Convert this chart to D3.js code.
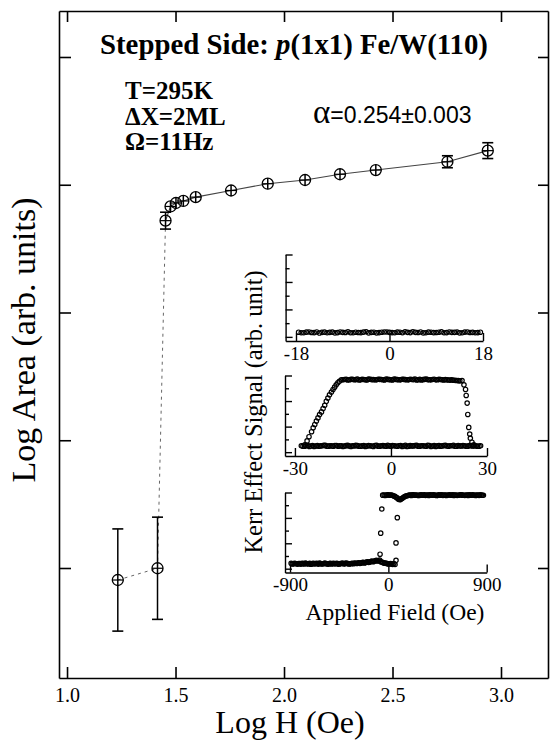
<!DOCTYPE html>
<html>
<head>
<meta charset="utf-8">
<script src="https://cdn.jsdelivr.net/npm/d3@7"></script>
<style>
  html, body { margin: 0; padding: 0; background: #fff; }
  svg { display: block; }
</style>
</head>
<body>
<svg id="chart" width="551" height="740"></svg>
<script>
// Main plot: log area vs log field
const logH = [1.234, 1.417, 1.454, 1.477, 1.502, 1.536, 1.593, 1.756, 1.925, 2.097, 2.258, 2.423, 2.753, 2.939];
const logArea = [0.906, 0.998, 3.719, 3.830, 3.857, 3.873, 3.903, 3.955, 4.008, 4.037, 4.082, 4.115, 4.180, 4.267];
const logAreaErr = [0.40, 0.40, 0.066, 0.01, 0.01, 0.01, 0.01, 0.01, 0.01, 0.01, 0.01, 0.01, 0.047, 0.062];

const xTickValues = [1.0, 1.5, 2.0, 2.5, 3.0];
const yTickValues = [1, 2, 3, 4, 5];

// Inset loops, [field (Oe), signal (arb.)]
const loop18Down = [[-17.5,0.34],[-16.5,0.30],[-15.5,0.36],[-14.5,0.31],[-13.5,0.28],[-12.5,0.35],[-11.5,0.33],[-10.5,0.29],[-9.5,0.36],[-8.5,0.32],[-7.5,0.30],[-6.5,0.34],[-5.5,0.31],[-4.5,0.37],[-3.5,0.33],[-2.5,0.29],[-1.5,0.34],[-0.5,0.36],[0.5,0.31],[1.5,0.35],[2.5,0.30],[3.5,0.33],[4.5,0.37],[5.5,0.32],[6.5,0.29],[7.5,0.35],[8.5,0.31],[9.5,0.34],[10.5,0.30],[11.5,0.36],[12.5,0.33],[13.5,0.29],[14.5,0.35],[15.5,0.32],[16.5,0.30],[17.5,0.34]];
const loop18Up = [[-17,0.30],[-16,0.35],[-15,0.32],[-14,0.36],[-13,0.33],[-12,0.30],[-11,0.35],[-10,0.31],[-9,0.33],[-8,0.37],[-7,0.30],[-6,0.32],[-5,0.35],[-4,0.29],[-3,0.34],[-2,0.31],[-1,0.36],[0,0.33],[1,0.30],[2,0.34],[3,0.37],[4,0.31],[5,0.33],[6,0.36],[7,0.30],[8,0.34],[9,0.32],[10,0.37],[11,0.31],[12,0.33],[13,0.35],[14,0.30],[15,0.36],[16,0.33],[17,0.31]];

const loop30Low = [[-28,0.50],[-27,0.46],[-26,0.52],[-25,0.48],[-24,0.45],[-23,0.51],[-22,0.49],[-21,0.53],[-20,0.47],[-19,0.50],[-18,0.46],[-17,0.52],[-16,0.49],[-15,0.45],[-14,0.51],[-13,0.48],[-12,0.50],[-11,0.53],[-10,0.47],[-9,0.49],[-8,0.45],[-7,0.51],[-6,0.48],[-5,0.52],[-4,0.46],[-3,0.50],[-2,0.49],[-1,0.53],[0,0.47],[1,0.50],[2,0.46],[3,0.52],[4,0.48],[5,0.45],[6,0.51],[7,0.49],[8,0.53],[9,0.47],[10,0.50],[11,0.46],[12,0.52],[13,0.48],[14,0.45],[15,0.51],[16,0.49],[17,0.53],[18,0.47],[19,0.50],[20,0.46],[21,0.52],[22,0.48],[23,0.50],[24,0.47],[25,0.51],[26,0.49],[27,0.46],[28,0.50]];
const loop30LowB = [[-27.5,0.47],[-26.5,0.51],[-25.5,0.45],[-24.5,0.52],[-23.5,0.48],[-22.5,0.46],[-21.5,0.50],[-20.5,0.53],[-19.5,0.47],[-18.5,0.49],[-17.5,0.52],[-16.5,0.46],[-15.5,0.50],[-14.5,0.48],[-13.5,0.53],[-12.5,0.45],[-11.5,0.49],[-10.5,0.51],[-9.5,0.46],[-8.5,0.52],[-7.5,0.48],[-6.5,0.50],[-5.5,0.45],[-4.5,0.53],[-3.5,0.47],[-2.5,0.51],[-1.5,0.46],[-0.5,0.49],[0.5,0.52],[1.5,0.48],[2.5,0.50],[3.5,0.45],[4.5,0.53],[5.5,0.47],[6.5,0.49],[7.5,0.52],[8.5,0.46],[9.5,0.50],[10.5,0.48],[11.5,0.53],[12.5,0.45],[13.5,0.51],[14.5,0.49],[15.5,0.46],[16.5,0.52],[17.5,0.48],[18.5,0.50],[19.5,0.53],[20.5,0.47],[21.5,0.49],[22.5,0.51],[23.5,0.46],[24.5,0.52],[25.5,0.48],[26.5,0.50],[27.5,0.47]];
const loop30High = [[-26.9,0.57],[-26.2,0.88],[-25.6,1.21],[-24.8,1.60],[-24.3,1.91],[-23.8,2.17],[-23.3,2.43],[-22.8,2.68],[-22.3,2.94],[-21.7,3.15],[-21.2,3.41],[-20.7,3.67],[-20.2,3.98],[-19.7,4.23],[-19.2,4.49],[-18.6,4.70],[-18.1,4.91],[-17.6,5.09],[-17.1,5.27],[-16.6,5.43],[-16.1,5.55],[-15.5,5.66],[-15,5.66],[-14,5.70],[-13,5.67],[-12,5.71],[-11,5.68],[-10,5.65],[-9,5.70],[-8,5.67],[-7,5.72],[-6,5.68],[-5,5.66],[-4,5.71],[-3,5.69],[-2,5.65],[-1,5.70],[0,5.67],[1,5.72],[2,5.68],[3,5.66],[4,5.70],[5,5.67],[6,5.71],[7,5.68],[8,5.65],[9,5.70],[10,5.68],[11,5.72],[12,5.67],[13,5.69],[14,5.66],[15,5.70],[16,5.67],[17,5.68],[18,5.65],[19,5.66],[20,5.62],[21,5.60],[22.2,5.60],[22.8,5.27],[23.3,4.91],[23.5,4.44],[23.8,3.84],[24.0,2.95],[24.3,1.94],[24.6,1.42],[24.8,1.09],[25.3,0.78],[25.9,0.57]];
const loop30HighB = [[-14.5,5.69],[-13.5,5.65],[-12.5,5.70],[-11.5,5.67],[-10.5,5.72],[-9.5,5.66],[-8.5,5.69],[-7.5,5.65],[-6.5,5.71],[-5.5,5.68],[-4.5,5.66],[-3.5,5.70],[-2.5,5.67],[-1.5,5.72],[-0.5,5.68],[0.5,5.65],[1.5,5.70],[2.5,5.67],[3.5,5.71],[4.5,5.68],[5.5,5.66],[6.5,5.69],[7.5,5.72],[8.5,5.67],[9.5,5.65],[10.5,5.70],[11.5,5.68],[12.5,5.66],[13.5,5.71],[14.5,5.67],[15.5,5.69],[16.5,5.65],[17.5,5.66],[18.5,5.64],[19.5,5.63],[20.5,5.61],[21.5,5.58]];

const loop900Low = [[-890,0.42],[-870,0.38],[-850,0.41],[-830,0.36],[-810,0.40],[-790,0.43],[-770,0.37],[-750,0.41],[-730,0.39],[-710,0.35],[-690,0.42],[-670,0.38],[-650,0.40],[-630,0.44],[-610,0.37],[-590,0.41],[-570,0.39],[-550,0.36],[-530,0.42],[-510,0.40],[-490,0.38],[-470,0.43],[-450,0.37],[-430,0.41],[-410,0.39],[-390,0.44],[-370,0.40],[-350,0.38],[-330,0.42],[-310,0.45],[-290,0.41],[-270,0.47],[-250,0.44],[-230,0.50],[-210,0.48],[-190,0.55],[-170,0.52],[-150,0.60],[-130,0.58],[-110,0.66],[-90,0.62],[-70,0.55],[-50,0.48],[-30,0.45],[-10,0.40],[10,0.38],[30,0.36],[50,0.40]];
const loop900LowB = [[-880,0.37],[-860,0.43],[-840,0.39],[-820,0.41],[-800,0.36],[-780,0.40],[-760,0.44],[-740,0.38],[-720,0.42],[-700,0.37],[-680,0.40],[-660,0.43],[-640,0.36],[-620,0.41],[-600,0.39],[-580,0.44],[-560,0.38],[-540,0.40],[-520,0.37],[-500,0.43],[-480,0.41],[-460,0.36],[-440,0.40],[-420,0.44],[-400,0.38],[-380,0.42],[-360,0.37],[-340,0.41],[-320,0.39],[-300,0.43],[-280,0.44],[-260,0.42],[-240,0.48],[-220,0.45],[-200,0.52],[-180,0.50],[-160,0.57],[-140,0.55],[-120,0.63],[-100,0.60],[-80,0.68],[-60,0.52],[-40,0.44],[-20,0.42],[0,0.37],[20,0.41],[40,0.34]];
const loop900High = [[-52,5.79],[-40,5.80],[-20,5.78],[0,5.82],[20,5.79],[40,5.76],[60,5.70],[80,5.58],[100,5.45],[120,5.50],[140,5.62],[160,5.72],[180,5.76],[200,5.79],[220,5.81],[240,5.78],[260,5.80],[280,5.77],[300,5.81],[320,5.79],[340,5.76],[360,5.80],[380,5.82],[400,5.78],[420,5.80],[440,5.77],[460,5.81],[480,5.79],[500,5.76],[520,5.80],[540,5.78],[560,5.82],[580,5.79],[600,5.77],[620,5.80],[640,5.78],[660,5.81],[680,5.79],[700,5.76],[720,5.80],[740,5.82],[760,5.78],[780,5.80],[800,5.77],[820,5.79],[840,5.81],[860,5.78]];
const loop900HighB = [[-30,5.77],[-10,5.81],[10,5.78],[30,5.80],[50,5.73],[70,5.62],[90,5.48],[110,5.44],[130,5.56],[150,5.68],[170,5.74],[190,5.80],[210,5.77],[230,5.82],[250,5.79],[270,5.76],[290,5.80],[310,5.78],[330,5.82],[350,5.79],[370,5.77],[390,5.80],[410,5.81],[430,5.78],[450,5.76],[470,5.80],[490,5.82],[510,5.79],[530,5.77],[550,5.80],[570,5.78],[590,5.81],[610,5.79],[630,5.76],[650,5.80],[670,5.82],[690,5.78],[710,5.80],[730,5.77],[750,5.79],[770,5.81],[790,5.78],[810,5.80],[830,5.76],[850,5.79],[870,5.78]];
const loop900Switch = [[-76,1.14],[-70,2.80],[-60,4.70],[61,0.33],[70,0.66],[70,2.03],[82,4.02]];

const insetYTicks = [0, 1, 2, 3, 4, 5, 6];

const serif = "'Liberation Serif', 'Times New Roman', serif";
const sans = "'Liberation Sans', Arial, sans-serif";

const svg = d3.select("#chart");
svg.append("rect").attr("width", 551).attr("height", 740).attr("fill", "#fff");

const frame = { left: 59, right: 548, top: 11, bottom: 678 };

const x = d3.scaleLinear().domain([0.963, 3.2166]).range([frame.left, frame.right]);
const y = d3.scaleLinear().domain([0.139, 5.36]).range([frame.bottom, frame.top]);

function styleAxis(g, width) {
  g.attr("font-family", serif);
  g.selectAll(".domain").attr("stroke", "#000").attr("stroke-width", width);
  g.selectAll(".tick line").attr("stroke", "#000").attr("stroke-width", width);
  g.selectAll(".tick text").attr("fill", "#000").attr("font-family", serif);
}

// frame built from four axes, ticks pointing inward
svg.append("g")
  .attr("transform", `translate(0,${frame.bottom})`)
  .call(d3.axisBottom(x).tickValues(xTickValues).tickFormat(d3.format(".1f")).tickSize(-11).tickSizeOuter(0))
  .call(g => styleAxis(g, 1.6))
  .call(g => g.selectAll(".tick text").attr("font-size", 20).attr("y", 24).attr("dy", 0));

svg.append("g")
  .attr("transform", `translate(0,${frame.top})`)
  .call(d3.axisTop(x).tickValues(xTickValues).tickFormat("").tickSize(-11).tickSizeOuter(0))
  .call(g => styleAxis(g, 1.6));

svg.append("g")
  .attr("transform", `translate(${frame.left},0)`)
  .call(d3.axisLeft(y).tickValues(yTickValues).tickFormat("").tickSize(-12).tickSizeOuter(0))
  .call(g => styleAxis(g, 1.6));

svg.append("g")
  .attr("transform", `translate(${frame.right},0)`)
  .call(d3.axisRight(y).tickValues(yTickValues).tickFormat("").tickSize(-10).tickSizeOuter(0))
  .call(g => styleAxis(g, 1.6));

// connecting lines
const pts = logH.map((h, i) => ({ h, a: logArea[i], e: logAreaErr[i] }));
const line = d3.line().x(d => x(d.h)).y(d => y(d.a));

svg.append("path")
  .datum(pts.slice(0, 3))
  .attr("d", line)
  .attr("fill", "none")
  .attr("stroke", "#666")
  .attr("stroke-width", 1)
  .attr("stroke-dasharray", "3,4");

svg.append("path")
  .datum(pts.slice(2))
  .attr("d", line)
  .attr("fill", "none")
  .attr("stroke", "#444")
  .attr("stroke-width", 1.1);

// markers with error bars
const r = 5.5;
const mk = svg.append("g").attr("stroke", "#000").attr("fill", "none");
pts.forEach(d => {
  const cx = x(d.h), cy = y(d.a);
  const top = Math.min(y(d.a + d.e), cy - r);
  const bot = Math.max(y(d.a - d.e), cy + r);
  mk.append("line").attr("x1", cx).attr("x2", cx).attr("y1", top).attr("y2", bot).attr("stroke-width", 1.5);
  if (y(d.a - d.e) - y(d.a + d.e) > 2 * r) {
    mk.append("line").attr("x1", cx - r).attr("x2", cx + r).attr("y1", top).attr("y2", top).attr("stroke-width", 1.6);
    mk.append("line").attr("x1", cx - r).attr("x2", cx + r).attr("y1", bot).attr("y2", bot).attr("stroke-width", 1.6);
  }
  mk.append("line").attr("x1", cx - r).attr("x2", cx + r).attr("y1", cy).attr("y2", cy).attr("stroke-width", 1.2);
  mk.append("circle").attr("cx", cx).attr("cy", cy).attr("r", r).attr("stroke-width", 1.3);
});

// titles and annotations
const title = svg.append("text")
  .attr("x", 100).attr("y", 54)
  .attr("font-family", serif).attr("font-weight", "bold").attr("font-size", 28.8);
title.append("tspan").text("Stepped Side: ");
title.append("tspan").attr("font-style", "italic").text("p");
title.append("tspan").text("(1x1) Fe/W(110)");

["T=295K", "\u0394X=2ML", "\u03A9=11Hz"].forEach((t, i) => {
  svg.append("text")
    .attr("x", 125).attr("y", 99 + i * 25.5)
    .attr("font-family", serif).attr("font-weight", "bold").attr("font-size", 25)
    .text(t);
});

const alpha = svg.append("text").attr("x", 313).attr("y", 123);
alpha.append("tspan").attr("font-family", serif).attr("font-size", 33).text("\u03B1");
alpha.append("tspan").attr("font-family", sans).attr("font-size", 23).text("=0.254\u00B10.003");

svg.append("text")
  .attr("x", 290).attr("y", 733)
  .attr("text-anchor", "middle")
  .attr("font-family", serif).attr("font-size", 32)
  .text("Log H (Oe)");

svg.append("text")
  .attr("transform", "translate(35,340) rotate(-90)")
  .attr("text-anchor", "middle")
  .attr("font-family", serif).attr("font-size", 34)
  .text("Log Area (arb. units)");

// inset: three Kerr loops
const panels = [
  { domain: [-20, 18], ticks: [-18, 0, 18], left: 285.6, right: 483, top: 254.5, bottom: 341, series: [loop18Down, loop18Up] },
  { domain: [-33.1, 30], ticks: [-30, 0, 30], left: 285, right: 487, top: 375.5, bottom: 456, series: [loop30Low, loop30LowB, loop30High, loop30HighB] },
  { domain: [-946, 900], ticks: [-900, 0, 900], left: 285, right: 486.7, top: 492.5, bottom: 572.5, series: [loop900Low, loop900LowB, loop900High, loop900HighB, loop900Switch] }
];

panels.forEach(p => {
  const px = d3.scaleLinear().domain(p.domain).range([p.left, p.right]);
  const py = d3.scaleLinear().domain([-0.3, 6]).range([p.bottom, p.top]);
  const g = svg.append("g");

  g.append("g")
    .attr("transform", `translate(0,${p.bottom})`)
    .call(d3.axisBottom(px).tickValues(p.ticks).tickFormat(d => String(d)).tickSize(-8).tickSizeOuter(0))
    .call(a => styleAxis(a, 1.4))
    .call(a => a.selectAll(".tick text").attr("font-size", 19).attr("y", 18.5).attr("dy", 0));

  g.append("g")
    .attr("transform", `translate(${p.left},0)`)
    .call(d3.axisLeft(py).tickValues(insetYTicks).tickFormat("").tickSize(-7).tickSizeOuter(0))
    .call(a => styleAxis(a, 1.4))
    .call(a => a.selectAll(".tick line").filter(d => d % 2 === 1).attr("x2", 4));

  p.series.forEach(s => {
    g.append("g")
      .selectAll("circle")
      .data(s)
      .join("circle")
      .attr("cx", d => px(d[0]))
      .attr("cy", d => py(d[1]))
      .attr("r", 2.2)
      .attr("fill", "none")
      .attr("stroke", "#000")
      .attr("stroke-width", 1.2);
  });
});

svg.append("text")
  .attr("x", 395).attr("y", 620)
  .attr("text-anchor", "middle")
  .attr("font-family", serif).attr("font-size", 23.5)
  .text("Applied Field (Oe)");

svg.append("text")
  .attr("transform", "translate(262,412) rotate(-90)")
  .attr("text-anchor", "middle")
  .attr("font-family", serif).attr("font-size", 24.5)
  .text("Kerr Effect Signal (arb. unit)");
</script>
</body>
</html>
